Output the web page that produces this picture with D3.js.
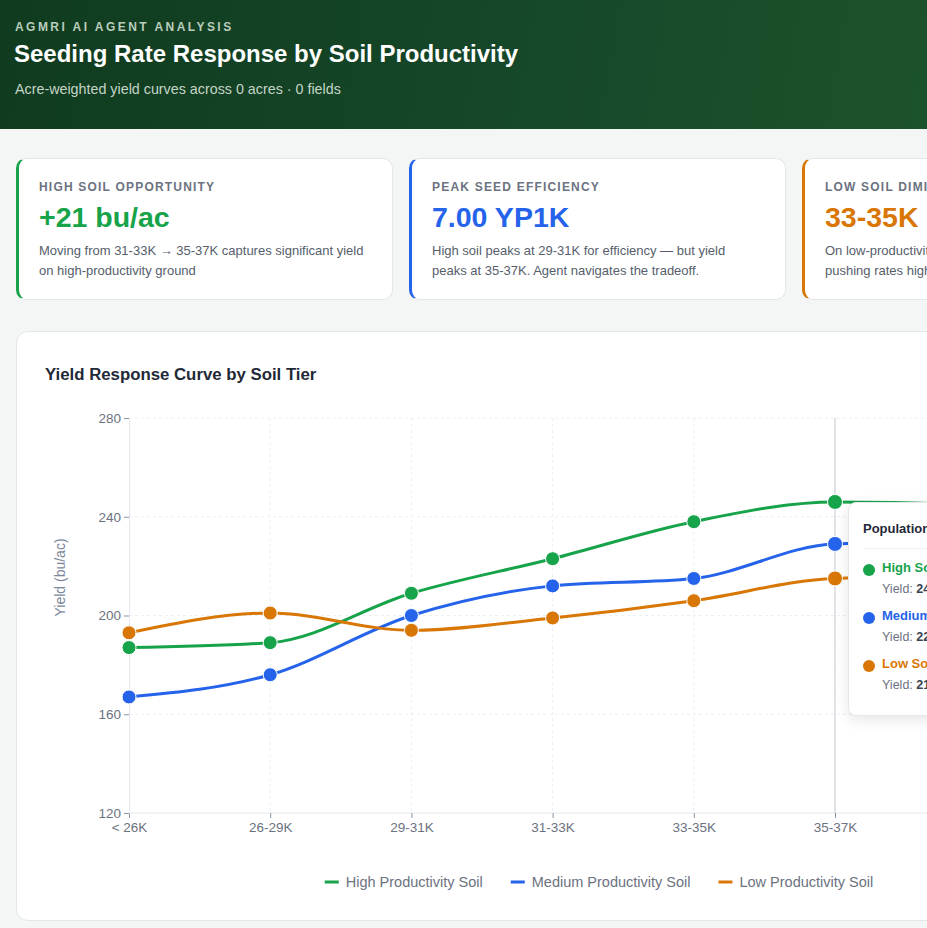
<!DOCTYPE html>
<html>
<head>
<meta charset="utf-8">
<script src="https://cdn.jsdelivr.net/npm/d3@7"></script>
<style>
  html, body { margin: 0; padding: 0; overflow: hidden; }
  body {
    width: 1200px;
    height: 928px;
    background: #f4f6f5;
    font-family: "Liberation Sans", Arial, sans-serif;
    position: relative;
  }
  .header {
    position: absolute; left: 0; top: 0; width: 1200px; height: 129px;
    background: linear-gradient(100deg, #103b1e 0%, #16482a 45%, #1f5a2d 100%);
  }
  .eyebrow {
    position: absolute; left: 15px; top: 20px;
    font-size: 12px; font-weight: 700; letter-spacing: 2.45px; color: #b9cdbd;
  }
  .title {
    position: absolute; left: 14px; top: 40px;
    font-size: 24px; font-weight: 700; color: #ffffff;
  }
  .subtitle {
    position: absolute; left: 15px; top: 81px;
    font-size: 14.3px; color: #c4d4c7;
  }
  .kpi {
    position: absolute; top: 158px; width: 377px; height: 142px;
    box-sizing: border-box; background: #fff;
    border: 1px solid #e2e7ec; border-left-width: 3px; border-radius: 10px;
  }
  .kpi .label {
    position: absolute; left: 20px; top: 21px;
    font-size: 12px; font-weight: 700; letter-spacing: 1.2px; color: #6b7280;
  }
  .kpi .value {
    position: absolute; left: 20px; top: 42px;
    font-size: 28.5px; font-weight: 700;
  }
  .kpi .desc {
    position: absolute; left: 20px; top: 82px; width: 345px;
    font-size: 13px; line-height: 20px; color: #565e6b;
    white-space: pre-line;
  }
  .chart-card {
    position: absolute; left: 16px; top: 331px; width: 1166px; height: 590px;
    box-sizing: border-box; background: #fff;
    border: 1px solid #e2e7ec; border-radius: 12px;
  }
  .chart-title {
    position: absolute; left: 28px; top: 33px;
    font-size: 16.8px; font-weight: 700; color: #1f2937;
  }
  .chart-card svg { position: absolute; left: 0; top: 0; }
  .tip {
    position: absolute; left: 831px; top: 170px; width: 210px; height: 214px;
    box-sizing: border-box; background: #fff;
    border: 1px solid #e5e7eb; border-radius: 8px;
    box-shadow: 0 4px 14px rgba(0,0,0,0.10);
  }
  .tip .tip-title {
    position: absolute; left: 14px; top: 18px;
    font-size: 13px; font-weight: 700; color: #1f2937;
  }
  .tip .sep { position: absolute; left: 14px; right: 14px; top: 45px; border-top: 1px solid #eef0f3; }
  .tip .row { position: absolute; left: 14px; }
  .tip .dot { position: absolute; left: 0; top: 4px; width: 12px; height: 12px; border-radius: 50%; }
  .tip .name { position: absolute; left: 19px; top: 0; font-size: 13px; font-weight: 700; white-space: nowrap; }
  .tip .yield { position: absolute; left: 19px; top: 22px; font-size: 12.5px; color: #6b7280; white-space: nowrap; }
  .tip .yield b { color: #374151; }
</style>
</head>
<body>
<div class="header">
  <div class="eyebrow">AGMRI AI AGENT ANALYSIS</div>
  <div class="title">Seeding Rate Response by Soil Productivity</div>
  <div class="subtitle">Acre-weighted yield curves across 0 acres · 0 fields</div>
</div>
<div id="kpis"></div>
<div class="chart-card" id="chartCard">
  <div class="chart-title">Yield Response Curve by Soil Tier</div>
</div>

<script>
// ============================================================================
// Data
// ============================================================================

var rateBands = ['< 26K', '26-29K', '29-31K', '31-33K', '33-35K', '35-37K', '37K+'];

var highSoil = [187, 189, 209, 223, 238, 246, 245];
var mediumSoil = [167, 176, 200, 212, 215, 229, 230];
var lowSoil = [193, 201, 194, 199, 206, 215, 216];

var yTicks = [120, 160, 200, 240, 280];

var kpiLabels = ['HIGH SOIL OPPORTUNITY', 'PEAK SEED EFFICIENCY', 'LOW SOIL DIMINISHING RETURNS'];
var kpiValues = ['+21 bu/ac', '7.00 YP1K', '33-35K'];
var kpiNotes = [
  'Moving from 31-33K \u2192 35-37K captures significant yield\non high-productivity ground',
  'High soil peaks at 29-31K for efficiency \u2014 but yield\npeaks at 35-37K. Agent navigates the tradeoff.',
  'On low-productivity soil, gains stall past 33-35K \u2014\npushing rates higher adds cost with little return.'
];

var series = [
  { name: 'High Productivity Soil', short: 'High Soil', color: '#16a34a', values: highSoil },
  { name: 'Medium Productivity Soil', short: 'Medium Soil', color: '#2563eb', values: mediumSoil },
  { name: 'Low Productivity Soil', short: 'Low Soil', color: '#d97706', values: lowSoil }
];

var activeBand = '35-37K';

// ============================================================================
// KPI cards
// ============================================================================

var kpiColors = ['#16a34a', '#2563eb', '#d97706'];

var kpi = d3.select('#kpis').selectAll('div.kpi')
  .data(kpiLabels)
  .enter()
    .append('div')
    .attr('class', 'kpi')
    .style('left', (d, i) => (16 + i * 393) + 'px')
    .style('border-left-color', (d, i) => kpiColors[i]);

kpi.append('div').attr('class', 'label').text(d => d);
kpi.append('div').attr('class', 'value')
  .style('color', (d, i) => kpiColors[i])
  .text((d, i) => kpiValues[i]);
kpi.append('div').attr('class', 'desc').text((d, i) => kpiNotes[i]);

// ============================================================================
// Chart
// ============================================================================

var svgWidth = 1164;
var svgHeight = 588;

var margin = { top: 86, left: 112 };
var step = 141.2;
var width = step * (rateBands.length - 1);
var height = 395;

var svg = d3.select('#chartCard')
  .append('svg')
  .attr('width', svgWidth)
  .attr('height', svgHeight);

var chartGroup = svg.append('g')
  .attr('transform', `translate(${margin.left}, ${margin.top})`);

var xScale = d3.scalePoint()
  .domain(rateBands)
  .range([0, width]);

var yScale = d3.scaleLinear()
  .domain([120, 280])
  .range([height, 0]);

// grid
chartGroup.append('g')
  .selectAll('line')
  .data(yTicks.slice(1))
  .enter()
    .append('line')
    .attr('x1', 0)
    .attr('x2', width + 60)
    .attr('y1', d => yScale(d))
    .attr('y2', d => yScale(d))
    .attr('stroke', '#eceff3')
    .attr('stroke-dasharray', '3 3');

chartGroup.append('g')
  .selectAll('line')
  .data(rateBands.slice(1))
  .enter()
    .append('line')
    .attr('x1', d => xScale(d))
    .attr('x2', d => xScale(d))
    .attr('y1', 0)
    .attr('y2', height)
    .attr('stroke', '#eceff3')
    .attr('stroke-dasharray', '3 3');

// axes
var xAxis = chartGroup.append('g')
  .attr('transform', `translate(0, ${height})`)
  .call(d3.axisBottom(xScale).tickSize(5).tickPadding(4));

var yAxis = chartGroup.append('g')
  .call(d3.axisLeft(yScale).tickValues(yTicks).tickSize(5).tickPadding(3));

[xAxis, yAxis].forEach(function(a) {
  a.select('.domain').attr('stroke', '#e3e8ee');
  a.selectAll('.tick line').attr('stroke', '#8a93a3');
  a.selectAll('.tick text')
    .attr('fill', '#6b7280')
    .style('font-family', '"Liberation Sans", Arial, sans-serif')
    .style('font-size', '13.5px');
});
xAxis.select('.domain').attr('d', `M0,0H${width + 60}`);

// y axis label
chartGroup.append('text')
  .attr('transform', `translate(-64, ${height / 2 - 38}) rotate(-90)`)
  .attr('text-anchor', 'middle')
  .attr('fill', '#7c879b')
  .style('font-size', '14px')
  .text('Yield (bu/ac)');

// cursor
chartGroup.append('line')
  .attr('x1', xScale(activeBand))
  .attr('x2', xScale(activeBand))
  .attr('y1', 0)
  .attr('y2', height)
  .attr('stroke', '#cfd3d9')
  .attr('stroke-width', 1.2);

// lines
var lineFor = d3.line()
  .x((d, i) => xScale(rateBands[i]))
  .y(d => yScale(d))
  .curve(d3.curveMonotoneX);

chartGroup.selectAll('path.series')
  .data(series)
  .enter()
    .append('path')
    .attr('class', 'series')
    .attr('d', d => lineFor(d.values))
    .attr('fill', 'none')
    .attr('stroke', d => d.color)
    .attr('stroke-width', 3);

// dots
series.forEach(function(s) {
  chartGroup.append('g')
    .selectAll('circle')
    .data(s.values)
    .enter()
      .append('circle')
      .attr('cx', (d, i) => xScale(rateBands[i]))
      .attr('cy', d => yScale(d))
      .attr('r', (d, i) => rateBands[i] === activeBand ? 7.5 : 7)
      .attr('fill', s.color)
      .attr('stroke', '#fff')
      .attr('stroke-width', 1);
});

// legend
var legend = svg.append('g')
  .attr('transform', 'translate(0, 550)');

var legendItems = legend.selectAll('g')
  .data(series)
  .enter()
    .append('g');

legendItems.append('line')
  .attr('x1', 0).attr('x2', 14)
  .attr('y1', 0).attr('y2', 0)
  .attr('stroke', d => d.color)
  .attr('stroke-width', 3);

legendItems.append('text')
  .attr('x', 21)
  .attr('dy', '0.35em')
  .attr('fill', '#6b7280')
  .style('font-size', '14.5px')
  .text(d => d.name);

var offsets = [];
var total = 0;
legendItems.each(function() {
  var w = this.getBBox().width;
  offsets.push(total);
  total += w + 28;
});
total -= 28;
var legendStart = 582 - total / 2;
legendItems.attr('transform', (d, i) => `translate(${legendStart + offsets[i]}, 0)`);

// tooltip
var idx = rateBands.indexOf(activeBand);
var tip = d3.select('#chartCard').append('div').attr('class', 'tip');
tip.append('div').attr('class', 'tip-title').text('Population: ' + activeBand);
tip.append('div').attr('class', 'sep');

var rows = tip.selectAll('div.row')
  .data(series)
  .enter()
    .append('div')
    .attr('class', 'row')
    .style('top', (d, i) => (57 + i * 48) + 'px');

rows.append('div').attr('class', 'dot').style('background', d => d.color);
rows.append('div').attr('class', 'name').style('color', d => d.color).text(d => d.short);
rows.append('div').attr('class', 'yield')
  .html(d => `Yield: <b>${d.values[idx]} bu/ac</b>`);
</script>
</body>
</html>
